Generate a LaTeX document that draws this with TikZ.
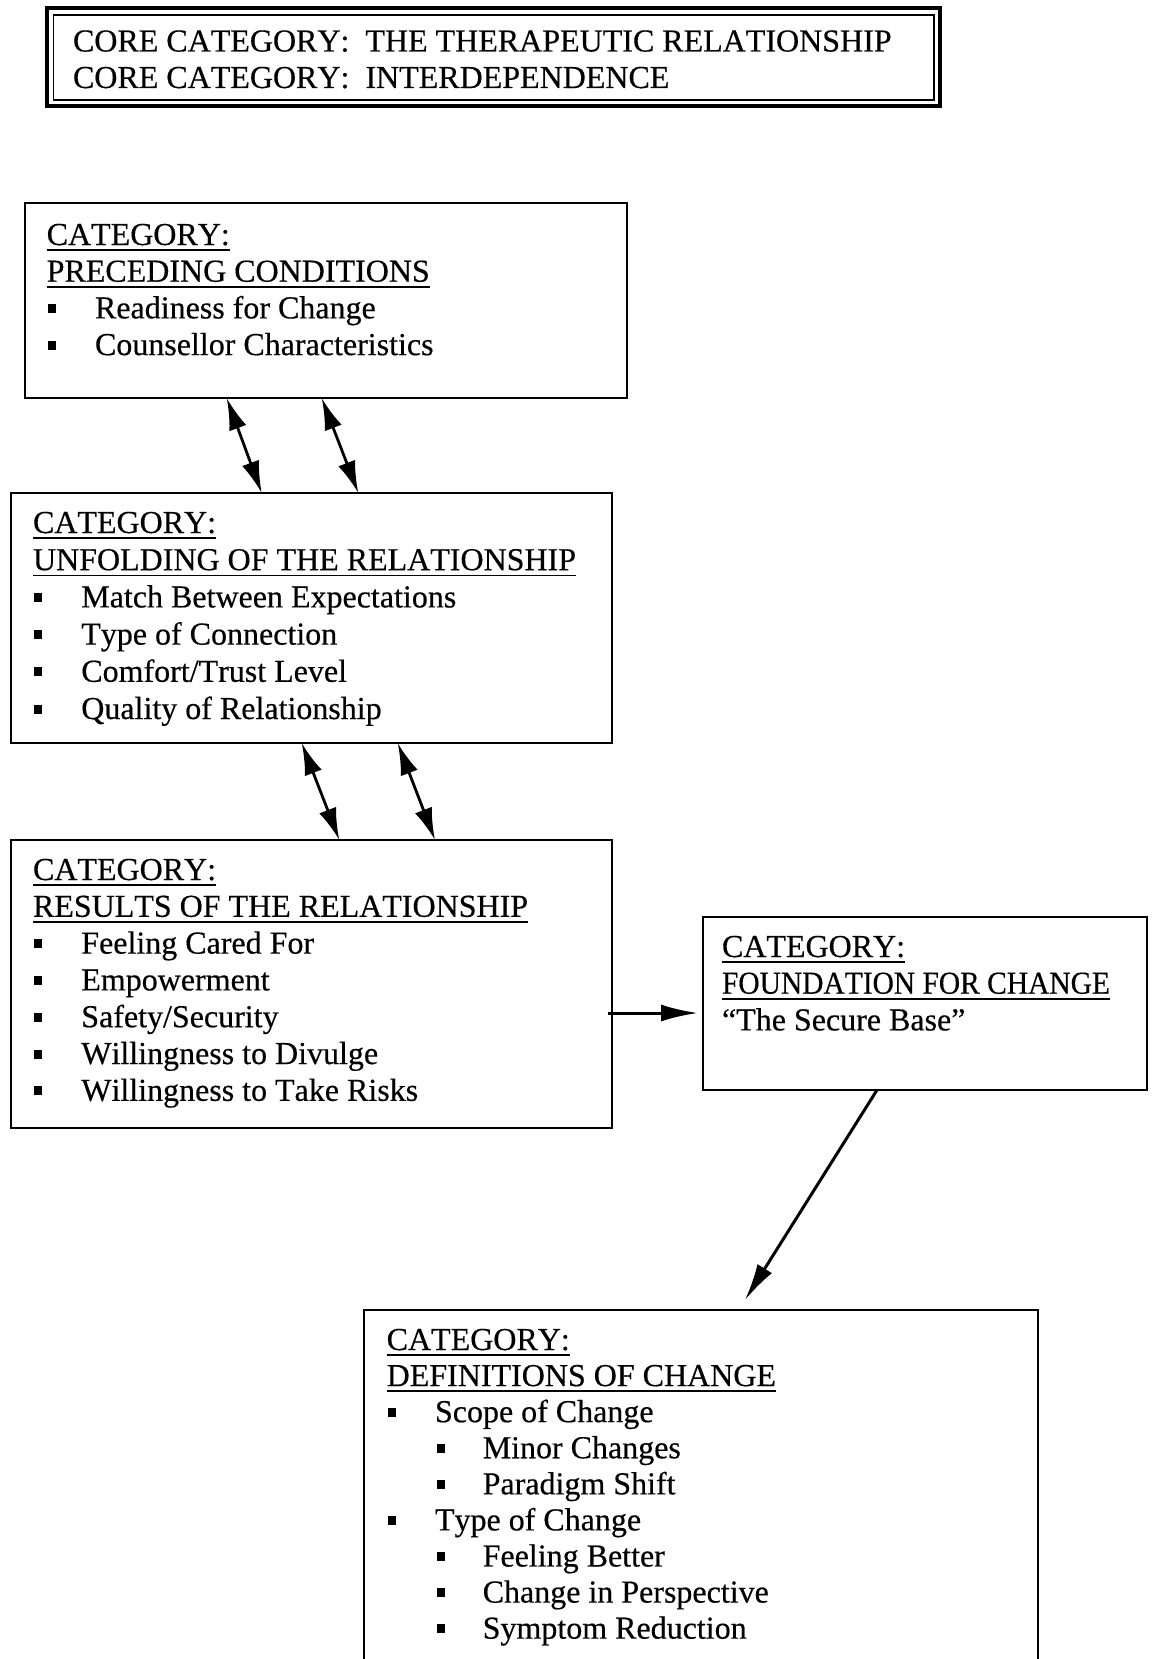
\documentclass[tikz,border=0pt]{standalone}
\usepackage{fontspec}
\usepackage{graphicx}
\setmainfont[Kerning=Off,FakeBold=0.4]{Liberation Serif}
\usetikzlibrary{arrows.meta}
\frenchspacing
\newcommand\uln[1]{\leavevmode\setbox0\hbox{#1}\rlap{\rule[-3pt]{\wd0}{0.8pt}}\box0}
\newcommand\bitm[1]{\leavevmode\makebox[24.15pt][l]{\hspace*{0.65pt}\rule[2.75pt]{3.75pt}{4.5pt}}#1}
\newcommand\sitm[1]{\leavevmode\makebox[48pt][l]{\hspace*{25.15pt}\rule[2.75pt]{3.75pt}{4.5pt}}#1}
\tikzset{
  box/.style={draw=black, line width=1.1pt, rectangle, anchor=north west, inner sep=0pt, outer sep=0pt},
  txt/.style={anchor=base west, inner sep=0pt, outer sep=0pt, font=\fontsize{16}{18.35}\selectfont},
  dblarrow/.style={line width=1.4pt, {Latex[length=16pt,width=9pt]}-{Latex[length=16pt,width=9pt]}},
  sglarrow/.style={line width=1.5pt, -{Latex[length=18.5pt,width=8.5pt]}},
}
\begin{document}
\begin{tikzpicture}[x=0.5pt,y=-0.5pt]
\useasboundingbox (0,0) rectangle (1152,1659);
% core category box (double border)
\node[box, line width=1.6pt, minimum width=446.5pt, minimum height=49pt] (core) at (47,8) {};
\node[box, line width=0.8pt, minimum width=440.25pt, minimum height=42.5pt] (corein) at (53.5,15) {};
\node[txt, font=\fontsize{16}{18.25}\selectfont] (coretxt) at (73,51.5) {\parbox[t]{440pt}{CORE CATEGORY:\hspace{8pt}THE THERAPEUTIC RELATIONSHIP\\CORE CATEGORY:\hspace{8pt}INTERDEPENDENCE}};
% boxes
\node[box, minimum width=301pt, minimum height=97.5pt] (prec) at (25,203) {};
\node[box, minimum width=300.5pt, minimum height=125pt] (unf) at (11,493) {};
\node[box, minimum width=300.5pt, minimum height=144pt] (res) at (11,840) {};
\node[box, minimum width=222pt, minimum height=86.5pt] (fnd) at (703,917) {};
\node[box, minimum width=337pt, minimum height=200pt] (defs) at (364,1310) {};
% texts
\node[txt] (prectxt) at (46.7,245) {\parbox[t]{300pt}{\uln{CATEGORY:}\\\uln{PRECEDING CONDITIONS}\\\bitm{Readiness for Change}\\\bitm{Counsellor Characteristics}}};
\node[txt, font=\fontsize{16}{18.6}\selectfont] (unftxt) at (33,533) {\parbox[t]{300pt}{\uln{CATEGORY:}\\\uln{UNFOLDING OF THE RELATIONSHIP}\\\bitm{Match Between Expectations}\\\bitm{Type of Connection}\\\bitm{Comfort/Trust Level}\\\bitm{Quality of Relationship}}};
\node[txt, font=\fontsize{16}{18.4}\selectfont] (restxt) at (33,880) {\parbox[t]{300pt}{\uln{CATEGORY:}\\\uln{RESULTS OF THE RELATIONSHIP}\\\bitm{Feeling Cared For}\\\bitm{Empowerment}\\\bitm{Safety/Security}\\\bitm{Willingness to Divulge}\\\bitm{Willingness to Take Risks}}};
\node[txt] (fndtxt) at (722,957) {\parbox[t]{220pt}{\uln{CATEGORY:}\\\uln{\resizebox{194pt}{\height}{FOUNDATION FOR CHANGE}}\\“The Secure Base”}};
\node[txt, font=\fontsize{16}{18.04}\selectfont] (defstxt) at (386.7,1350) {\parbox[t]{320pt}{\uln{CATEGORY:}\\\uln{DEFINITIONS OF CHANGE}\\\bitm{Scope of Change}\\\sitm{Minor Changes}\\\sitm{Paradigm Shift}\\\bitm{Type of Change}\\\sitm{Feeling Better}\\\sitm{Change in Perspective}\\\sitm{Symptom Reduction}}};
% connectors
\draw[dblarrow] ([xshift=100.85pt]prec.south west) -- ([xshift=125.35pt]unf.north west);
\draw[dblarrow] ([xshift=148.35pt]prec.south west) -- ([xshift=173.65pt]unf.north west);
\draw[dblarrow] ([xshift=145.35pt]unf.south west) -- ([xshift=164.15pt]res.north west);
\draw[dblarrow] ([xshift=193.35pt]unf.south west) -- ([xshift=212pt]res.north west);
\draw[sglarrow] ([xshift=-2pt,yshift=-14.5pt]res.east) -- ([xshift=-2.5pt,yshift=-4.75pt]fnd.west);
\draw[sglarrow] ([xshift=87pt]fnd.south west) -- ([xshift=190.5pt,yshift=5pt]defs.north west);
\end{tikzpicture}
\end{document}
